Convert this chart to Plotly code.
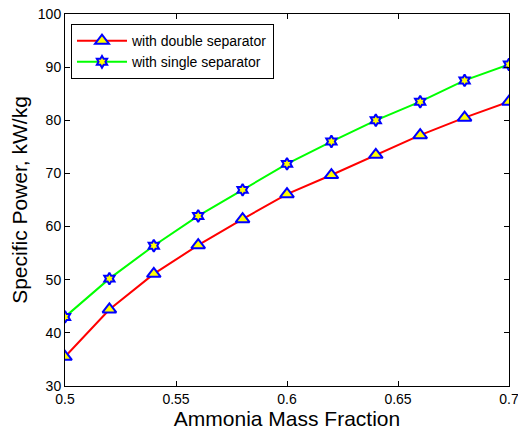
import plotly.graph_objects as go

x_frac = [0.50, 0.52, 0.54, 0.56, 0.58, 0.60, 0.62, 0.64, 0.66, 0.68, 0.70]
double_sep = [35.5, 44.4, 51.1, 56.5, 61.4, 66.1, 69.7, 73.5, 77.2, 80.5, 83.5]
single_sep = [43.0, 50.2, 56.4, 62.0, 66.9, 71.8, 76.0, 80.0, 83.5, 87.5, 90.5]
x_ticks = [0.5, 0.55, 0.6, 0.65, 0.7]
x_ticklabels = ["0.5", "0.55", "0.6", "0.65", "0.7"]
y_ticks = [30, 40, 50, 60, 70, 80, 90, 100]

font = "Liberation Sans, Arial, sans-serif"

fig = go.Figure()
fig.add_trace(go.Scatter(
    x=x_frac, y=double_sep, mode="lines+markers", name="with double separator",
    line=dict(color="#ff0000", width=2),
    marker=dict(symbol="triangle-up", size=12, color="#ffff00",
                line=dict(color="#0000ff", width=2)),
))
fig.add_trace(go.Scatter(
    x=x_frac, y=single_sep, mode="lines+markers", name="with single separator",
    line=dict(color="#00ff00", width=2),
    marker=dict(symbol="hexagram", size=9, color="#ffff00",
                line=dict(color="#0000ff", width=2)),
))

axis_common = dict(
    showgrid=False, zeroline=False, showline=True, linecolor="black", linewidth=1,
    mirror="ticks", ticks="inside", ticklen=5, tickcolor="black",
    tickfont=dict(family=font, size=14, color="black"), automargin=False,
    ticklabeloverflow="allow",
)

fig.update_layout(
    width=518, height=432,
    margin=dict(l=65, r=9, t=14, b=46),
    paper_bgcolor="white", plot_bgcolor="white",
    font=dict(family=font, color="black"),
    xaxis=dict(range=[0.5, 0.7], tickvals=x_ticks, ticktext=x_ticklabels,
               title=dict(text="Ammonia Mass Fraction", font=dict(size=21), standoff=2),
               **axis_common),
    yaxis=dict(range=[30, 100], tickvals=y_ticks,
               title=dict(text="Specific Power, kW/kg", font=dict(size=21), standoff=4),
               **axis_common),
    legend=dict(x=0.0135, y=0.973, xanchor="left", yanchor="top",
                bgcolor="white", bordercolor="black", borderwidth=1,
                font=dict(family=font, size=14, color="black"),
                tracegroupgap=0, itemwidth=50),
    showlegend=True,
)

fig.write_html("out.html")
